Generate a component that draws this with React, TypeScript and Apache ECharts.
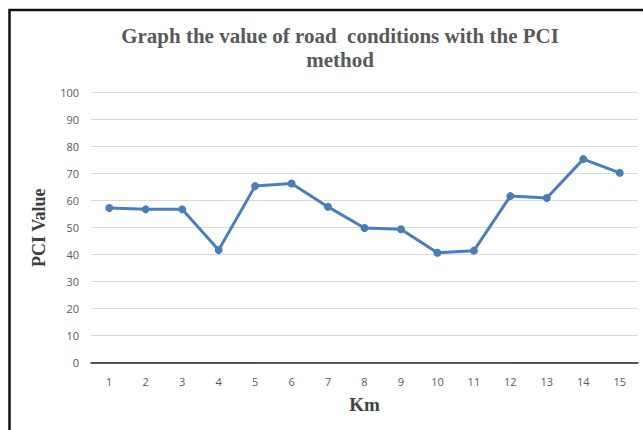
import React, { useEffect, useRef } from "react";
import * as echarts from "echarts";

const categories = ["1", "2", "3", "4", "5", "6", "7", "8", "9", "10", "11", "12", "13", "14", "15"];
const pciValues = [57.3, 56.8, 56.8, 41.7, 65.4, 66.4, 57.7, 49.9, 49.4, 40.7, 41.5, 61.7, 61.0, 75.4, 70.3];
const titleText = "Graph the value of road  conditions with the PCI\nmethod";
const yAxisTitle = "PCI Value";
const xAxisTitle = "Km";

export default function App() {
  const ref = useRef<HTMLDivElement>(null);
  useEffect(() => {
    if (!ref.current) return;
    const chart = echarts.init(ref.current, undefined, { renderer: "svg" });
    chart.setOption({
      animation: false,
      backgroundColor: "#ffffff",
      title: {
        text: titleText,
        left: 335,
        textAlign: "center",
        top: 19,
        textStyle: {
          fontFamily: "Liberation Serif",
          fontWeight: "bold",
          fontSize: 21,
          color: "#595959",
          lineHeight: 24,
        },
      },
      graphic: [
        {
          type: "rect",
          shape: { x: 9.5, y: 10, width: 650, height: 440 },
          style: { fill: "none", stroke: "#111111", lineWidth: 2.5 },
          z: 100,
        },
      ],
      grid: { left: 91, right: 5, top: 92.7, bottom: 67.3 },
      xAxis: {
        type: "category",
        data: categories,
        boundaryGap: true,
        name: xAxisTitle,
        nameLocation: "middle",
        nameGap: 32,
        nameTextStyle: { fontFamily: "Liberation Serif", fontWeight: "bold", fontSize: 19, color: "#404040" },
        axisLine: { show: true, lineStyle: { color: "#262626", width: 1.5 } },
        axisTick: { show: false },
        axisLabel: { fontFamily: "Open Sans", fontSize: 11, color: "#595959", margin: 13 },
        splitLine: { show: false },
      },
      yAxis: {
        type: "value",
        min: 0,
        max: 100,
        interval: 10,
        name: yAxisTitle,
        nameLocation: "middle",
        nameGap: 43,
        nameRotate: 90,
        nameTextStyle: { fontFamily: "Liberation Serif", fontWeight: "bold", fontSize: 18, color: "#404040" },
        axisLine: { show: false },
        axisTick: { show: false },
        axisLabel: { fontFamily: "Open Sans", fontSize: 11, color: "#595959", margin: 12 },
        splitLine: { lineStyle: { color: "#d9d9d9", width: 1 } },
      },
      series: [
        {
          type: "line",
          data: pciValues,
          symbol: "circle",
          symbolSize: 8,
          lineStyle: { color: "#4a7ebb", width: 3 },
          itemStyle: { color: "#4a7ebb" },
        },
      ],
    });
    return () => chart.dispose();
  }, []);
  return (
    <div
      ref={ref}
      style={{ position: "fixed", left: 0, top: 0, width: 643, height: 430 }}
    />
  );
}
